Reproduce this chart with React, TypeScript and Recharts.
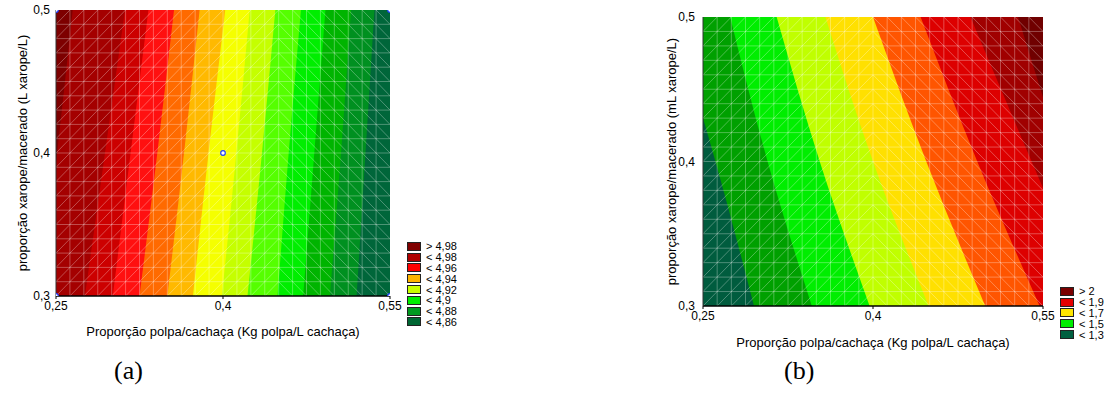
import React from 'react';
import { ComposedChart, Area, XAxis, YAxis, CartesianGrid, ReferenceLine, Scatter, Legend } from 'recharts';

// y levels where the contour edges were read
const yLevels = [0.3, 0.4, 0.5];

// chart (a): x of each contour edge, left to right, at y = 0.3 / 0.4 / 0.5
const aEdgesAt03 = [0.236, 0.276, 0.301, 0.325, 0.35, 0.373, 0.399, 0.422, 0.449, 0.472, 0.496, 0.52];
const aEdgesAt04 = [0.251, 0.294, 0.317, 0.341, 0.365, 0.387, 0.412, 0.435, 0.459, 0.482, 0.506, 0.528];
const aEdgesAt05 = [0.265, 0.312, 0.333, 0.356, 0.379, 0.402, 0.424, 0.447, 0.47, 0.492, 0.515, 0.536];
const aBandColors = ['#7d0000', '#a40000', '#cc0000', '#ff1010', '#ff6a00', '#ffb900', '#f5ff00', '#c5ff00', '#55ff00', '#00ee00', '#00b400', '#009020', '#00663a'];
const aLegendLabels = ['> 4,98', '< 4,98', '< 4,96', '< 4,94', '< 4,92', '< 4,9', '< 4,88', '< 4,86'];
const aLegendColors = ['#800000', '#b00000', '#ff0000', '#ffb400', '#c8ff00', '#00ee00', '#009a20', '#006633'];
const aDesignPoints = [
  { x: 0.25, y: 0.3 },
  { x: 0.55, y: 0.3 },
  { x: 0.25, y: 0.5 },
  { x: 0.55, y: 0.5 },
  { x: 0.4, y: 0.4 },
];

// chart (b)
const bEdgesAt03 = [0.295, 0.346, 0.397, 0.449, 0.499, 0.547, 0.595, 0.618];
const bEdgesAt04 = [0.261, 0.307, 0.353, 0.4, 0.447, 0.492, 0.54, 0.569];
const bEdgesAt05 = [0.223, 0.274, 0.315, 0.358, 0.4, 0.442, 0.486, 0.528];
const bBandColors = ['#005c3e', '#00a000', '#00ee00', '#c0ff00', '#ffe000', '#ff5500', '#dd0000', '#a00000', '#700000'];
const bLegendLabels = ['> 2', '< 1,9', '< 1,7', '< 1,5', '< 1,3'];
const bLegendColors = ['#7a0000', '#e60000', '#ffe600', '#00ee00', '#006040'];

const xTicks = [0.25, 0.4, 0.55];
const yTicks = [0.3, 0.4, 0.5];
const xTitle = 'Proporção polpa/cachaça (Kg polpa/L cachaça)';

const FONT = '"Liberation Sans", Arial, sans-serif';
const fmt = (v: number) => String(v).replace('.', ',');

const topTicks = Array.from({ length: 13 }, (_, i) => +(0.25 + i * 0.025).toFixed(4));
const rightTicks = Array.from({ length: 13 }, (_, i) => +(0.3 + (i * 0.2) / 12).toFixed(4));

function buildRows(at03: number[], at04: number[], at05: number[]) {
  return [at03, at04, at05].map((edges, i) => {
    const row: Record<string, number> = { y: yLevels[i] };
    edges.forEach((v, k) => (row['e' + k] = v));
    return row;
  });
}

// triangulation mesh drawn over the surface
const DX = 0.0125;
const DY = 0.01;
function meshSegments(splitX: number) {
  const nx = 24;
  const ny = 20;
  const ns = Math.round((splitX - 0.25) / DX);
  const segs: number[][] = [];
  for (let k = -ny; k <= ns; k++) {
    const i0 = Math.max(0, k);
    const i1 = Math.min(ns, ny + k);
    if (i1 <= i0) continue;
    segs.push([0.25 + i0 * DX, 0.3 + (i0 - k) * DY, 0.25 + i1 * DX, 0.3 + (i1 - k) * DY]);
  }
  const m = nx - ns;
  for (let k = 0; k <= m + ny; k++) {
    const i0 = Math.max(0, k - ny);
    const i1 = Math.min(m, k);
    if (i1 <= i0) continue;
    segs.push([0.25 + (ns + i0) * DX, 0.3 + (k - i0) * DY, 0.25 + (ns + i1) * DX, 0.3 + (k - i1) * DY]);
  }
  return segs.map((s) => s.map((v) => +v.toFixed(5)));
}

function LegendBox({ labels, colors }: { labels: string[]; colors: string[] }) {
  return (
    <div style={{ fontFamily: FONT, fontSize: 11, color: '#000' }}>
      {labels.map((l, i) => (
        <div key={l} style={{ display: 'flex', alignItems: 'center', height: 10.8 }}>
          <span style={{ width: 12, height: 7, border: '1px solid #222', background: colors[i], marginRight: 5 }} />
          <span style={{ lineHeight: '10px' }}>{l}</span>
        </div>
      ))}
    </div>
  );
}

type ContourProps = {
  width: number;
  height: number;
  margin: { top: number; right: number; bottom: number; left: number };
  rows: Record<string, number>[];
  bandColors: string[];
  split: number;
  yTitle: string;
  yAxisWidth: number;
  yTitleDx: number;
  yTickMargin: number;
  xAxisHeight: number;
  legendLabels: string[];
  legendColors: string[];
  legendPos: { left: number; top: number };
  points?: { x: number; y: number }[];
};

function ContourChart(p: ContourProps) {
  const edgeCount = p.bandColors.length - 1;
  const edgeKeys = Array.from({ length: edgeCount }, (_, k) => 'e' + k).reverse();
  const segs = meshSegments(p.split);
  const vLines = Array.from({ length: 23 }, (_, i) => +(0.25 + (i + 1) * DX).toFixed(5));
  const hLines = Array.from({ length: 19 }, (_, j) => +(0.3 + (j + 1) * DY).toFixed(5));
  const mesh = { stroke: '#ffffff', strokeOpacity: 0.3, strokeWidth: 1 };
  return (
    <ComposedChart width={p.width} height={p.height} layout="vertical" data={p.rows} margin={p.margin}>
      <CartesianGrid horizontal={false} vertical={false} fill={p.bandColors[edgeCount]} fillOpacity={1} />
      <XAxis
        type="number"
        domain={[0.25, 0.55]}
        allowDataOverflow
        ticks={xTicks}
        interval={0}
        tickFormatter={fmt}
        tick={{ fontFamily: FONT, fontSize: 12, fill: '#000' }}
        tickSize={3}
        tickMargin={2}
        axisLine={{ stroke: '#000', strokeWidth: 1.5 }}
        tickLine={{ stroke: '#000' }}
        height={p.xAxisHeight}
        label={{ value: xTitle, position: 'center', fontFamily: FONT, fontSize: 13, fill: '#000' }}
      />
      <XAxis
        xAxisId="top"
        orientation="top"
        type="number"
        domain={[0.25, 0.55]}
        allowDataOverflow
        ticks={topTicks}
        interval={0}
        tick={false}
        mirror
        height={0}
        tickSize={3}
        axisLine={{ stroke: '#222', strokeWidth: 1.5 }}
        tickLine={{ stroke: '#222' }}
      />
      <YAxis
        type="number"
        dataKey="y"
        domain={[0.3, 0.5]}
        reversed
        allowDataOverflow
        ticks={yTicks}
        interval={0}
        tickFormatter={fmt}
        tick={{ fontFamily: FONT, fontSize: 12, fill: '#000' }}
        tickLine={false}
        tickSize={0}
        tickMargin={p.yTickMargin}
        axisLine={{ stroke: '#333' }}
        width={p.yAxisWidth}
        label={{ value: p.yTitle, angle: -90, position: 'center', dx: p.yTitleDx, fontFamily: FONT, fontSize: 13, fill: '#000' }}
      />
      <YAxis
        yAxisId="right"
        orientation="right"
        type="number"
        domain={[0.3, 0.5]}
        reversed
        allowDataOverflow
        ticks={rightTicks}
        interval={0}
        tick={false}
        mirror
        width={0}
        tickSize={3}
        axisLine={{ stroke: '#999', strokeWidth: 2 }}
        tickLine={{ stroke: '#222' }}
      />
      {edgeKeys.map((key) => {
        const k = Number(key.slice(1));
        return (
          <Area
            key={key}
            dataKey={key}
            type="monotone"
            baseValue="dataMin"
            fill={p.bandColors[k]}
            fillOpacity={1}
            stroke="none"
            dot={false}
            activeDot={false}
            isAnimationActive={false}
          />
        );
      })}
      {vLines.map((x) => (
        <ReferenceLine key={'v' + x} x={x} {...mesh} ifOverflow="visible" />
      ))}
      {hLines.map((y) => (
        <ReferenceLine key={'h' + y} y={y} {...mesh} ifOverflow="visible" />
      ))}
      {segs.map((s, i) => (
        <ReferenceLine
          key={'d' + i}
          segment={[
            { x: s[0], y: s[1] },
            { x: s[2], y: s[3] },
          ]}
          {...mesh}
          ifOverflow="visible"
        />
      ))}
      {p.points && (
        <Scatter
          data={p.points}
          dataKey="x"
          isAnimationActive={false}
          shape={(sp: any) => <circle cx={sp.cx} cy={sp.cy} r={2.3} fill="#ffffff" stroke="#2040ff" strokeWidth={1.2} />}
        />
      )}
      <Legend
        layout="vertical"
        align="center"
        verticalAlign="middle"
        wrapperStyle={{ left: p.legendPos.left, top: p.legendPos.top, width: 70 }}
        content={() => <LegendBox labels={p.legendLabels} colors={p.legendColors} />}
      />
    </ComposedChart>
  );
}

const capStyle: React.CSSProperties = {
  position: 'absolute',
  fontFamily: '"Liberation Serif", "Times New Roman", serif',
  fontSize: 26,
  lineHeight: '30px',
  color: '#000',
};

export default function App() {
  return (
    <div style={{ position: 'absolute', left: 0, top: 0, width: 1109, height: 394, background: '#fff', overflow: 'hidden' }}>
      <div style={{ position: 'absolute', left: 0, top: 0 }}>
        <ContourChart
          width={470}
          height={370}
          margin={{ top: 10, right: 80, bottom: 4, left: 0 }}
          rows={buildRows(aEdgesAt03, aEdgesAt04, aEdgesAt05)}
          bandColors={aBandColors}
          split={0.45}
          yTitle="proporção xarope/macerado (L xarope/L)"
          yAxisWidth={56}
          yTitleDx={-6}
          yTickMargin={6}
          xAxisHeight={70}
          legendLabels={aLegendLabels}
          legendColors={aLegendColors}
          legendPos={{ left: 407, top: 241 }}
          points={aDesignPoints}
        />
      </div>
      <div style={{ position: 'absolute', left: 640, top: 0 }}>
        <ContourChart
          width={469}
          height={394}
          margin={{ top: 17, right: 66, bottom: 16, left: 0 }}
          rows={buildRows(bEdgesAt03, bEdgesAt04, bEdgesAt05)}
          bandColors={bBandColors}
          split={0.4}
          yTitle="proporção xarope/macerado (mL xarope/L)"
          yAxisWidth={63}
          yTitleDx={0}
          yTickMargin={8}
          xAxisHeight={72}
          legendLabels={bLegendLabels}
          legendColors={bLegendColors}
          legendPos={{ left: 420, top: 286 }}
        />
      </div>
      <div style={{ ...capStyle, left: 114, top: 356 }}>(a)</div>
      <div style={{ ...capStyle, left: 784, top: 356 }}>(b)</div>
    </div>
  );
}
